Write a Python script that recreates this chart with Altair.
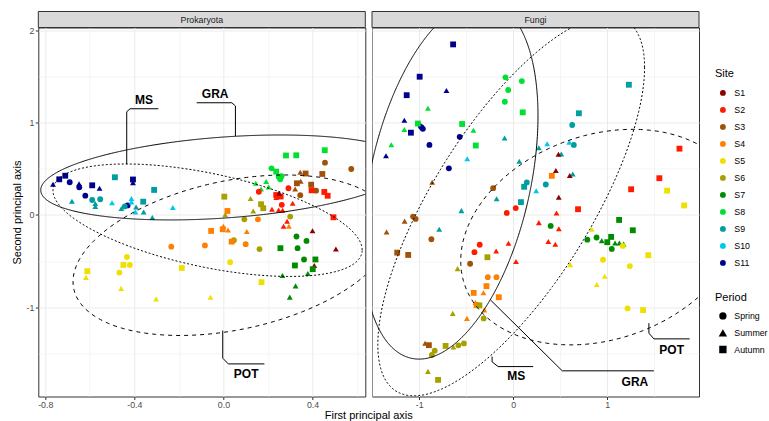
import altair as alt
import numpy as np
import pandas as pd

FONT = "Liberation Sans"

SITES = ["S1", "S2", "S3", "S4", "S5", "S6", "S7", "S8", "S9", "S10", "S11"]
SITE_COLORS = ["#8B0000", "#FF1A00", "#A0520A", "#FF7F00", "#EEE000", "#A8A000",
               "#008B00", "#00E030", "#009E9E", "#00C8EC", "#00008B"]
PERIODS = ["Spring", "Summer", "Autumn"]
PERIOD_SHAPES = ["circle", "triangle-up", "square"]
PERIOD_CODE = {"Sp": "Spring", "Su": "Summer", "Au": "Autumn"}

# ---------------- Prokaryota ordination scores ----------------
PROK_SITE = (["S11"] * 12 + ["S9"] * 13 + ["S10"] * 5 + ["S8"] * 12 + ["S3"] * 11 + ["S2"] * 16
             + ["S1"] * 5 + ["S6"] * 10 + ["S4"] * 12 + ["S7"] * 12 + ["S5"] * 12)
PROK_PERIOD = [
    "Su", "Au", "Au", "Sp", "Su", "Sp", "Au", "Su", "Sp", "Au", "Su", "Sp",
    "Au", "Au", "Su", "Sp", "Su", "Su", "Sp", "Su", "Sp", "Au", "Su", "Su", "Su",
    "Su", "Su", "Su", "Su", "Su",
    "Au", "Au", "Au", "Sp", "Au", "Sp", "Sp", "Sp", "Su", "Su", "Su", "Su",
    "Sp", "Sp", "Su", "Au", "Au", "Au", "Su", "Au", "Su", "Sp", "Sp",
    "Sp", "Au", "Au", "Au", "Sp", "Au", "Au", "Su", "Sp", "Su", "Su", "Su", "Su", "Au", "Su", "Su",
    "Su", "Su", "Su", "Su", "Su",
    "Au", "Su", "Au", "Au", "Su", "Su", "Sp", "Sp", "Sp", "Sp",
    "Au", "Sp", "Su", "Su", "Su", "Au", "Au", "Su", "Au", "Sp", "Sp", "Sp",
    "Sp", "Sp", "Sp", "Au", "Sp", "Au", "Au", "Au", "Su", "Su", "Su", "Su",
    "Sp", "Au", "Au", "Su", "Su", "Su", "Su", "Au", "Sp", "Au", "Sp", "Sp",
]
PROK_PC1 = [
    -0.765, -0.737, -0.710, -0.690, -0.648, -0.647, -0.589, -0.556, -0.620, -0.406, -0.406, -0.430,
    -0.487, -0.311, -0.680, -0.589, -0.575, -0.575, -0.553, -0.458, -0.443, -0.360, -0.392, -0.358, -0.319,
    -0.500, -0.413, -0.413, -0.395, -0.227,
    0.281, 0.327, 0.455, 0.216, 0.237, 0.248, 0.255, 0.261, 0.145, 0.192, 0.203, 0.169,
    0.456, 0.574, 0.345, 0.369, 0.444, 0.330, 0.347, 0.394, 0.322, 0.416, 0.345,
    0.292, 0.396, 0.453, 0.468, 0.159, 0.237, 0.257, 0.237, 0.262, 0.311, 0.218, 0.248, 0.266, 0.494, 0.286, 0.270,
    0.250, 0.400, 0.505, 0.414, 0.408,
    0.004, 0.122, 0.169, 0.179, 0.134, 0.008, 0.094, 0.300, 0.047, 0.162,
    0.018, 0.155, 0.294, 0.000, 0.021, -0.003, -0.055, 0.105, 0.037, 0.100, -0.083, -0.234,
    0.328, 0.373, 0.333, 0.256, 0.362, 0.413, 0.321, 0.401, 0.265, 0.379, 0.324, 0.298,
    0.030, -0.187, 0.171, -0.058, -0.302, -0.459, -0.617, -0.611, -0.467, -0.449, -0.420, -0.433,
]
PROK_PC2 = [
    0.332, 0.386, 0.425, 0.354, 0.339, 0.300, 0.321, 0.289, 0.209, 0.384, 0.350, 0.103,
    0.408, 0.271, 0.148, 0.162, 0.124, 0.092, 0.170, 0.070, 0.092, 0.144, 0.087, 0.032, -0.027,
    0.132, 0.179, 0.141, 0.032, 0.081,
    0.644, 0.646, 0.701, 0.505, 0.469, 0.415, 0.386, 0.420, 0.343, 0.363, 0.303, 0.281,
    0.566, 0.498, 0.462, 0.449, 0.444, 0.343, 0.365, 0.328, 0.281, 0.263, 0.214,
    0.289, 0.267, 0.249, 0.208, 0.251, 0.216, 0.200, 0.189, 0.110, 0.127, 0.062, 0.054, 0.051, -0.025, -0.068, -0.122,
    0.235, -0.171, -0.368, -0.482, -0.547,
    0.198, 0.179, 0.116, 0.073, 0.043, 0.002, -0.047, -0.018, -0.274, -0.370,
    0.043, -0.047, -0.122, -0.122, -0.162, -0.155, -0.173, -0.179, -0.289, -0.316, -0.330, -0.343,
    -0.233, -0.281, -0.360, -0.360, -0.482, -0.482, -0.547, -0.587, -0.655, -0.633, -0.768, -0.890,
    -0.511, -0.574, -0.728, -0.891, -0.909, -0.795, -0.676, -0.609, -0.624, -0.541, -0.541, -0.455,
]

# ---------------- Fungi ordination scores ----------------
FUNG_SITE = (["S11"] * 13 + ["S8"] * 12 + ["S9"] * 16 + ["S10"] * 4 + ["S1"] * 4 + ["S4"] * 11
             + ["S6"] * 13 + ["S3"] * 12 + ["S2"] * 16 + ["S7"] * 12 + ["S5"] * 12)
FUNG_PERIOD = [
    "Au", "Au", "Su", "Au", "Su", "Su", "Sp", "Sp", "Au", "Sp", "Sp", "Su", "Sp",
    "Su", "Au", "Su", "Su", "Au", "Su", "Au", "Sp", "Sp", "Sp", "Sp", "Au",
    "Su", "Au", "Au", "Sp", "Su", "Sp", "Su", "Su", "Su", "Sp", "Au", "Sp", "Su", "Au", "Su", "Su",
    "Su", "Su", "Su", "Su",
    "Su", "Su", "Su", "Su",
    "Au", "Sp", "Sp", "Au", "Au", "Su", "Au", "Su", "Au", "Su", "Su",
    "Au", "Sp", "Su", "Au", "Su", "Au", "Su", "Sp", "Sp", "Sp", "Sp", "Su", "Au",
    "Su", "Sp", "Sp", "Sp", "Su", "Su", "Sp", "Au", "Au", "Sp", "Su", "Au",
    "Au", "Au", "Au", "Au", "Su", "Su", "Su", "Su", "Su", "Sp", "Sp", "Sp", "Sp", "Su", "Su", "Su",
    "Sp", "Au", "Au", "Sp", "Sp", "Su", "Au", "Au", "Sp", "Su", "Su", "Su",
    "Au", "Au", "Su", "Sp", "Au", "Sp", "Sp", "Su", "Su", "Su", "Sp", "Au",
]
FUNG_PC1 = [
    -0.639, -0.995, -0.710, -1.133, -1.158, -0.985, -0.977, -0.961, -1.088, -0.891, -0.569, -1.353, -0.684,
    -0.907, -1.014, -1.158, -1.296, -0.543, -0.423, -0.398, -0.082, 0.092, -0.053, -0.089, 0.102,
    -0.091, 1.231, 0.699, 0.628, 0.273, 0.645, 0.512, 0.065, 0.634, 0.145, 0.117, 0.347, -0.176, 0.083, -0.551, -0.787,
    -0.489, 0.362, 0.597, 0.245,
    0.482, 0.454, 0.602, 0.485,
    0.411, -0.270, -0.178, -0.284, -0.420, -0.316, -0.153, -0.401, -0.390, -0.306, -0.492,
    -0.359, -0.314, -0.643, -0.274, -0.591, -0.719, -0.636, -0.583, -0.524, -0.835, -0.865, -0.907, -0.799,
    -0.862, -0.213, -1.065, -1.038, -1.155, -1.347, -0.870, -1.234, -1.117, -0.458, -0.937, -0.897,
    1.769, 1.555, 1.255, 0.690, 0.461, 0.273, 0.486, 0.374, 0.448, -0.068, 0.027, -0.356, -0.412, -0.181, -0.050, 0.030,
    0.399, 1.127, 1.273, 0.789, 0.887, 0.942, 1.001, 1.042, 1.049, 1.084, 1.130, 1.175,
    1.638, 1.819, 0.836, 1.166, 1.438, 0.956, 1.241, 0.608, 0.974, 0.889, 1.217, 1.382,
]
FUNG_PC2 = [
    1.847, 1.497, 1.347, 1.297, 1.026, 0.974, 0.952, 0.933, 0.891, 0.758, 0.846, 0.641, 0.505,
    1.156, 0.990, 0.925, 0.760, 0.985, 0.918, 0.752, 1.490, 1.450, 1.353, 1.226, 1.111,
    0.833, 1.410, 1.101, 0.974, 0.728, 0.758, 0.660, 0.581, 0.444, 0.352, 0.305, 0.330, 0.175, 0.139, 0.047, -0.154,
    0.609, 0.771, 0.787, 0.263,
    0.657, 0.482, 0.427, 0.192,
    0.424, -0.674, -0.674, -0.771, -0.844, -0.842, -0.891, -0.947, -0.975, -1.028, -1.120,
    -0.979, -1.120, -1.066, -0.458, -0.581, -1.418, -1.429, -1.412, -1.391, -1.470, -1.517, -1.694, -1.786,
    0.354, 0.290, -0.018, -0.043, -0.067, -0.184, -0.263, -0.408, -0.433, -0.528, -1.389, -1.410,
    0.718, 0.398, 0.278, 0.062, 0.022, -0.083, -0.149, -0.287, -0.317, 0.022, 0.074, -0.323, -0.403, -0.390, -0.306, -0.505,
    -0.119, -0.054, -0.166, -0.268, -0.244, -0.278, -0.295, -0.238, -0.368, -0.303, -0.303, -0.316,
    0.263, 0.103, -0.154, -0.335, -0.436, -0.485, -0.554, -0.538, -0.663, -0.754, -1.012, -1.030,
]

# ---------------- Group ellipses: centre, spread and correlation ----------------
ELL_GROUP = ["GRA", "MS", "POT"]
PROK_ELL_CX = [0.008, -0.071, 0.041]
PROK_ELL_CY = [0.406, -0.057, -0.436]
PROK_ELL_SX = [0.828, 0.694, 0.716]
PROK_ELL_SY = [0.460, 0.609, 0.869]
PROK_ELL_RHO = [0.298, -0.529, 0.330]

FUNG_ELL_CX = [-0.668, -0.021, 0.940]
FUNG_ELL_CY = [0.379, 0.097, -0.240]
FUNG_ELL_SX = [0.932, 1.419, 1.498]
FUNG_ELL_SY = [1.940, 2.056, 1.167]
FUNG_ELL_RHO = [0.358, 0.730, 0.220]

# ---------------- Group labels and their leader lines ----------------
PROK_LAB_TEXT = ["MS", "GRA", "POT"]
PROK_LAB_PC1 = [-0.356, -0.037, 0.102]
PROK_LAB_PC2 = [1.250, 1.310, -1.726]
PROK_LEAD_GROUP = ["MS"] * 4 + ["GRA"] * 4 + ["POT"] * 4
PROK_LEAD_PC1 = [-0.434, -0.434, -0.419, -0.292, 0.054, 0.054, 0.038, -0.120, -0.003, -0.003, 0.022, 0.184]
PROK_LEAD_PC2 = [0.549, 1.118, 1.150, 1.150, 0.855, 1.180, 1.215, 1.215, -1.252, -1.551, -1.613, -1.613]

FUNG_LAB_TEXT = ["GRA", "MS", "POT"]
FUNG_LAB_PC1 = [1.295, 0.032, 1.686]
FUNG_LAB_PC2 = [-1.807, -1.748, -1.461]
FUNG_LEAD_GROUP = ["GRA"] * 3 + ["MS"] * 4 + ["POT"] * 4
FUNG_LEAD_PC1 = [-0.242, 0.522, 1.497, -0.224, -0.224, -0.160, 0.213, 1.444, 1.444, 1.497, 1.878]
FUNG_LEAD_PC2 = [-0.920, -1.688, -1.688, -1.534, -1.591, -1.642, -1.642, -1.172, -1.280, -1.342, -1.342]

# ---------------- Layout ----------------
PAGE_W, PAGE_H = 769, 421
ORIGIN_X, ORIGIN_Y = 38.3, 27.5
PANEL_W = 327
PANEL_H = 369
STRIP_H = 16
Y_DOMAIN = [-1.966, 2.03]
PROK_X_DOMAIN = [-0.831, 0.637]
FUNG_X_DOMAIN = [-1.502, 1.977]

# major ticks carry labels and wider grid lines, minor ones only a thin grid line
INT_TEST = "abs(datum.value - round(datum.value)) < 0.001"
PROK_X_TEST = "abs(datum.value * 2.5 - round(datum.value * 2.5)) < 0.001"


def scores_frame(site, period, pc1, pc2):
    assert len(site) == len(period) == len(pc1) == len(pc2)
    return pd.DataFrame({"site": site, "period": [PERIOD_CODE[p] for p in period],
                         "pc1": pc1, "pc2": pc2})


def ellipse_frame(cx, cy, sx, sy, rho, n=361):
    t = np.linspace(0, 2 * np.pi, n)
    parts = []
    for g, a, b, c, d, r in zip(ELL_GROUP, cx, cy, sx, sy, rho):
        parts.append(pd.DataFrame({
            "group": g,
            "pc1": a + c * np.cos(t),
            "pc2": b + d * (r * np.cos(t) + np.sqrt(1 - r * r) * np.sin(t)),
            "step": np.arange(n),
        }))
    return pd.concat(parts, ignore_index=True)


def lead_frame(group, pc1, pc2):
    df = pd.DataFrame({"group": group, "pc1": pc1, "pc2": pc2})
    df["step"] = df.groupby("group").cumcount()
    return df


def axis_props(values, test, fmt):
    return dict(
        values=values,
        labelExpr=f"({test}) ? replace(format(datum.value, '{fmt}'), '\u2212', '-') : ''",
        gridWidth={"condition": {"test": test, "value": 1.0}, "value": 0.5},
        tickOpacity={"condition": {"test": test, "value": 1}, "value": 0},
        domain=False,
        labelFlush=False,
        labelOverlap=False,
        labelBound=False,
    )


def panel(title, pts, ell, lead, labs, x_domain, x_values, x_test, x_fmt, left):
    xa = axis_props(x_values, x_test, x_fmt)
    if left:
        xa.update(title="First principal axis", titleX=330, titlePadding=0, labelPadding=1)
    else:
        xa.update(title=None, labelPadding=1)
    ya = axis_props([-1.5, -1, -0.5, 0, 0.5, 1, 1.5, 2], INT_TEST, ".0f")
    if left:
        ya.update(title="Second principal axis", titlePadding=3)
    else:
        ya.update(title=None, labels=False, ticks=False)

    X = alt.X("pc1:Q", scale=alt.Scale(domain=x_domain, nice=False, zero=False), axis=alt.Axis(**xa))
    Y = alt.Y("pc2:Q", scale=alt.Scale(domain=Y_DOMAIN, nice=False, zero=False), axis=alt.Axis(**ya))

    strip_df = pd.DataFrame({"panel": [title]})
    strip_bg = alt.Chart(strip_df).mark_rect(fill="#D9D9D9", stroke="#333333", strokeWidth=1).encode(
        x=alt.value(0), x2=alt.value(PANEL_W), y=alt.value(-STRIP_H), y2=alt.value(0))
    strip_tx = alt.Chart(strip_df).mark_text(font=FONT, fontSize=8.8, color="#1A1A1A").encode(
        x=alt.value(PANEL_W / 2), y=alt.value(-STRIP_H / 2), text="panel:N")

    points = alt.Chart(pts).mark_point(filled=True, size=34, opacity=1, strokeWidth=0).encode(
        x=X, y=Y,
        color=alt.Color("site:N", scale=alt.Scale(domain=SITES, range=SITE_COLORS),
                        legend=alt.Legend(title="Site", orient="none", legendX=676.7, legendY=40,
                                          symbolType="circle", symbolSize=34, rowPadding=7,
                                          titlePadding=10, labelOffset=7, symbolOffset=3.5)),
        shape=alt.Shape("period:N", scale=alt.Scale(domain=PERIODS, range=PERIOD_SHAPES),
                        legend=alt.Legend(title="Period", orient="none", legendX=676.7, legendY=264,
                                          symbolSize=34, rowPadding=4.3, titlePadding=9,
                                          labelOffset=7, symbolOffset=3.5,
                                          symbolFillColor="black", symbolStrokeColor="black")),
    )

    ellipses = alt.Chart(ell).mark_line(clip=True, color="black", strokeWidth=1).encode(
        x=X, y=Y, detail="group:N", order="step:Q",
        strokeDash=alt.StrokeDash("group:N", scale=alt.Scale(domain=ELL_GROUP,
                                  range=[[1, 0], [2, 2], [4, 4]]), legend=None))

    leaders = alt.Chart(lead).mark_line(color="black", strokeWidth=1).encode(
        x=X, y=Y, detail="group:N", order="step:Q")

    labels = alt.Chart(labs).mark_text(font=FONT, fontSize=12, fontWeight="bold", color="black").encode(
        x=X, y=Y, text="label:N")

    return alt.layer(points, ellipses, leaders, labels, strip_bg, strip_tx).properties(
        width=PANEL_W, height=PANEL_H)


prok = panel(
    "Prokaryota",
    scores_frame(PROK_SITE, PROK_PERIOD, PROK_PC1, PROK_PC2),
    ellipse_frame(PROK_ELL_CX, PROK_ELL_CY, PROK_ELL_SX, PROK_ELL_SY, PROK_ELL_RHO),
    lead_frame(PROK_LEAD_GROUP, PROK_LEAD_PC1, PROK_LEAD_PC2),
    pd.DataFrame({"label": PROK_LAB_TEXT, "pc1": PROK_LAB_PC1, "pc2": PROK_LAB_PC2}),
    PROK_X_DOMAIN, [-0.8, -0.6, -0.4, -0.2, 0, 0.2, 0.4, 0.6], PROK_X_TEST, ".1f", True)

fung = panel(
    "Fungi",
    scores_frame(FUNG_SITE, FUNG_PERIOD, FUNG_PC1, FUNG_PC2),
    ellipse_frame(FUNG_ELL_CX, FUNG_ELL_CY, FUNG_ELL_SX, FUNG_ELL_SY, FUNG_ELL_RHO),
    lead_frame(FUNG_LEAD_GROUP, FUNG_LEAD_PC1, FUNG_LEAD_PC2),
    pd.DataFrame({"label": FUNG_LAB_TEXT, "pc1": FUNG_LAB_PC1, "pc2": FUNG_LAB_PC2}),
    FUNG_X_DOMAIN, [-1.5, -1, -0.5, 0, 0.5, 1, 1.5], INT_TEST, ".0f", False)

# fixed-size page: the layout origin sits at the top-left corner of the first panel
chart = alt.hconcat(prok, fung, spacing=6.7, bounds="flush").resolve_scale(
    x="independent", y="independent", color="shared", shape="shared", strokeDash="shared"
).properties(
    autosize=alt.AutoSizeParams(type="none"),
    padding={"left": ORIGIN_X, "top": ORIGIN_Y,
             "right": PAGE_W - ORIGIN_X, "bottom": PAGE_H - ORIGIN_Y},
    background="white",
).configure_view(
    stroke="#333333", strokeWidth=1
).configure_mark(
    color="black"
).configure_axis(
    gridColor="#EBEBEB", tickColor="#333333", tickSize=3, labelPadding=1.5,
    labelFont=FONT, labelFontSize=8.8, labelColor="#4D4D4D",
    titleFont=FONT, titleFontSize=11, titleFontWeight="normal", titleColor="black",
).configure_legend(
    titleFont=FONT, titleFontSize=11, titleFontWeight="normal", titleColor="black",
    labelFont=FONT, labelFontSize=8.8, labelColor="black", padding=0,
)

chart.save("out.html", embed_options={"renderer": "svg", "actions": False})
